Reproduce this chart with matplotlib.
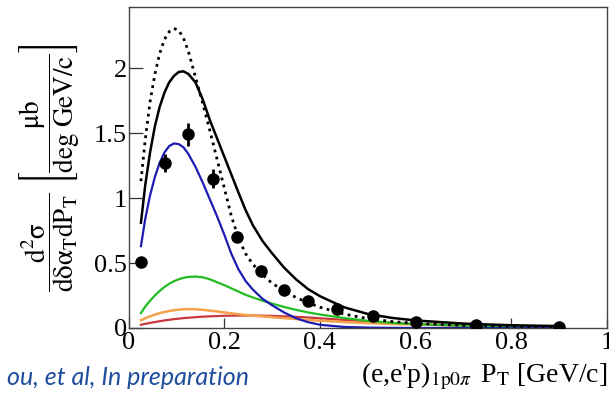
import numpy as np
import matplotlib
matplotlib.use('agg')
import matplotlib.pyplot as plt

## Data
# measured points
pt_data = [0.026, 0.076, 0.124, 0.176, 0.226, 0.277, 0.325, 0.375, 0.435, 0.51, 0.60, 0.726, 0.90]
xs_data = [0.505, 1.27, 1.49, 1.15, 0.70, 0.44, 0.29, 0.21, 0.15, 0.09, 0.05, 0.02, 0.01]
xs_err = [0.03, 0.07, 0.09, 0.07, 0.04, 0.03, 0.02, 0.02, 0.015, 0.01, 0.01, 0.005, 0.005]

# model curves
pt_curve = [0.026, 0.035, 0.045, 0.055, 0.065, 0.075, 0.085, 0.095, 0.105, 0.115, 0.125,
            0.14, 0.155, 0.17, 0.185, 0.2, 0.215, 0.23, 0.245, 0.26, 0.28, 0.3,
            0.325, 0.35, 0.375, 0.4, 0.45, 0.5, 0.55, 0.6, 0.7, 0.8, 0.9]
total_dotted = [1.13, 1.45, 1.74, 1.95, 2.11, 2.22, 2.28, 2.305, 2.29, 2.23, 2.13,
                1.93, 1.73, 1.52, 1.30, 1.08, 0.86, 0.69, 0.57, 0.49, 0.41, 0.345,
                0.285, 0.235, 0.195, 0.16, 0.108, 0.072, 0.05, 0.036, 0.02, 0.012, 0.008]
total_solid = [0.81, 1.10, 1.35, 1.55, 1.70, 1.81, 1.89, 1.94, 1.97, 1.975, 1.955,
               1.89, 1.76, 1.60, 1.46, 1.32, 1.18, 1.04, 0.905, 0.79, 0.67, 0.575,
               0.465, 0.375, 0.30, 0.245, 0.16, 0.108, 0.078, 0.058, 0.034, 0.021, 0.015]
qe_blue = [0.63, 0.84, 1.02, 1.16, 1.27, 1.35, 1.40, 1.42, 1.415, 1.39, 1.34,
           1.24, 1.12, 0.99, 0.86, 0.72, 0.57, 0.45, 0.36, 0.295, 0.225, 0.175,
           0.12, 0.075, 0.045, 0.025, 0.008, 0.003, 0.001, 0.0, 0.0, 0.0, 0.0]
mec_green = [0.115, 0.165, 0.21, 0.25, 0.285, 0.315, 0.34, 0.36, 0.375, 0.386, 0.393,
             0.396, 0.39, 0.375, 0.352, 0.33, 0.305, 0.28, 0.255, 0.235, 0.21, 0.188,
             0.162, 0.14, 0.12, 0.104, 0.077, 0.055, 0.04, 0.03, 0.018, 0.011, 0.007]
res_orange = [0.06, 0.075, 0.09, 0.103, 0.114, 0.123, 0.131, 0.137, 0.141, 0.144, 0.145,
              0.144, 0.14, 0.134, 0.127, 0.12, 0.113, 0.106, 0.1, 0.095, 0.089, 0.083,
              0.076, 0.069, 0.062, 0.056, 0.046, 0.038, 0.031, 0.026, 0.019, 0.015, 0.012]
dis_red = [0.025, 0.032, 0.039, 0.046, 0.052, 0.058, 0.063, 0.068, 0.072, 0.076, 0.079,
           0.083, 0.087, 0.09, 0.092, 0.094, 0.095, 0.096, 0.096, 0.096, 0.095, 0.093,
           0.09, 0.086, 0.081, 0.075, 0.062, 0.05, 0.039, 0.03, 0.018, 0.01, 0.007]

x_ticks = [0, 0.2, 0.4, 0.6, 0.8, 1]
x_ticklabels = ['0', '0.2', '0.4', '0.6', '0.8', '1']
y_ticks = [0, 0.5, 1, 1.5, 2]
y_ticklabels = ['0', '0.5', '1', '1.5', '2']

plt.rcParams['font.family'] = ['Liberation Serif', 'DejaVu Serif']
plt.rcParams['mathtext.fontset'] = 'stix'

fig = plt.figure(figsize=(6.09, 3.99), dpi=100)
ax = fig.add_axes([128.5/609, 71/399, (607-128.5)/609, (328-7)/399])

## Curves
ax.plot(pt_curve, dis_red, color='#c8383c', lw=1.6)
ax.plot(pt_curve, res_orange, color='#f5a04a', lw=1.8)
ax.plot(pt_curve, mec_green, color='#22bb22', lw=1.6)
ax.plot(pt_curve, qe_blue, color='#1c1cb0', lw=1.6)
ax.plot(pt_curve, total_dotted, color='black', lw=2.0, ls=(0, (1, 1.6)))
ax.plot(pt_curve, total_solid, color='black', lw=1.8)

## Data
ax.errorbar(pt_data, xs_data, yerr=xs_err, fmt='o', color='black', ms=8,
            elinewidth=2, capsize=0, zorder=5)

ax.set_xlim(0, 1)
ax.set_ylim(0, 2.47)
ax.set_xticks(x_ticks)
ax.set_xticklabels(x_ticklabels)
ax.set_yticks(y_ticks)
ax.set_yticklabels(y_ticklabels)
ax.tick_params(axis='both', direction='in', labelsize=19, width=0.9, color='#333333')
ax.tick_params(axis='x', length=7, pad=3)
ax.tick_params(axis='y', length=10, pad=1)
for s in ax.spines.values():
    s.set_color('#444444')
    s.set_linewidth(1.0)

## Axis titles
fig.text(607/609, (399-382)/399,
         r"(e,e'p)$_{\mathrm{1p0}\pi}\,$ P$_{\mathrm{T}}$ [GeV/c]",
         ha='right', va='baseline', fontsize=20)
fig.text(50/609, 1 - 168/399,
         r'$\dfrac{\mathrm{d^{2}\sigma}}{\mathrm{d\delta\alpha_{T}dP_{T}}}'
         r'\ \left[\dfrac{\mathrm{\mu b}}{\mathrm{deg\ GeV/c}}\right]$',
         rotation=90, ha='center', va='center', fontsize=19.5)

fig.text(249/609, (399-385)/399, 'ou, et al, In preparation', ha='right', va='baseline',
         fontsize=18, style='italic', color='#1f4e9e', family='Lato')

plt.savefig('out.png', dpi=100)
